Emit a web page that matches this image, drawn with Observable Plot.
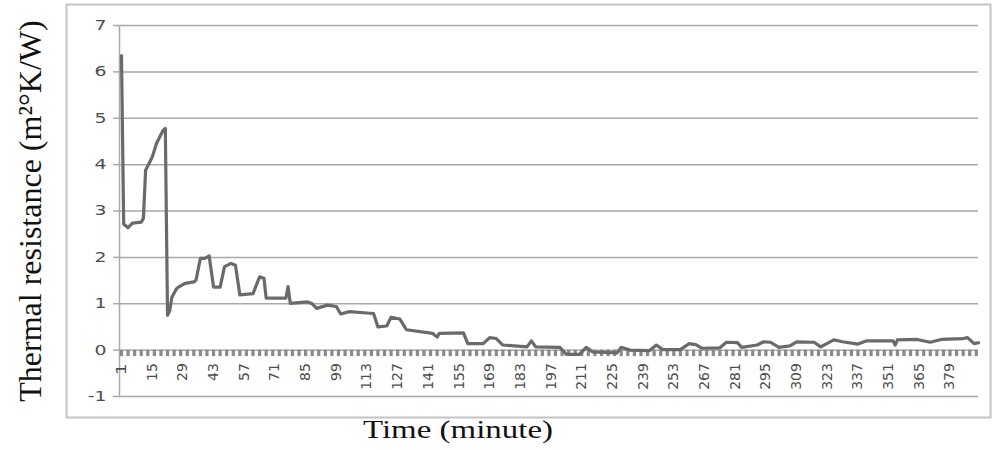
<!DOCTYPE html>
<html><head><meta charset="utf-8">
<script src="https://cdn.jsdelivr.net/npm/d3@7"></script>
<script src="https://cdn.jsdelivr.net/npm/@observablehq/plot@0.6"></script>
<style>
html,body{margin:0;padding:0;background:#fff;}
#chart{width:998px;height:450px;}
</style></head><body><div id="chart"></div>
<script>
// Key points (minute, thermal resistance)
const minutes = [1,2,4,6,10,11,12,15,17,20,21,22,23,24,26,27,30,34,35,37,39,41,43,46,48,51,53,55,61,64,66,67,76,77,78,86,88,90,95,99,101,105,113,116,118,122,124,128,131,143,145,146,157,159,166,169,172,175,186,188,190,201,204,210,213,216,227,229,233,242,245,248,256,260,263,266,274,277,282,284,291,294,297,301,306,309,317,320,326,330,337,341,353,354,355,364,370,375,385,387,390,392];
const resistance = [6.35,2.72,2.64,2.74,2.76,2.84,3.88,4.16,4.46,4.74,4.78,0.75,0.85,1.14,1.32,1.36,1.44,1.47,1.51,1.98,1.98,2.03,1.36,1.36,1.80,1.87,1.83,1.19,1.22,1.58,1.55,1.12,1.12,1.37,1.01,1.04,1.00,0.90,0.97,0.94,0.78,0.83,0.80,0.79,0.50,0.52,0.71,0.67,0.44,0.36,0.28,0.36,0.37,0.14,0.14,0.27,0.25,0.11,0.07,0.20,0.07,0.06,-0.09,-0.09,0.06,-0.04,-0.06,0.06,0.00,-0.01,0.11,0.01,0.01,0.14,0.12,0.04,0.05,0.17,0.16,0.06,0.11,0.18,0.17,0.06,0.09,0.18,0.17,0.07,0.22,0.18,0.13,0.20,0.20,0.11,0.22,0.23,0.17,0.23,0.25,0.27,0.14,0.16];
const xTickLabels = [1,15,29,43,57,71,85,99,113,127,141,155,169,183,197,211,225,239,253,267,281,295,309,323,337,351,365,379];
const yTicks = [-1,0,1,2,3,4,5,6,7];
const yTitle = "Thermal resistance (m²°K/W)";
const xTitle = "Time (minute)";

const data = minutes.map((m, i) => ({minute: m, value: resistance[i]}));
const xDomain = [0.09, 392];
const minorTicks = d3.range(1, 393, 3);

const gridColor = "#a9a9a9";
const labelColor = "#4d4d4d";

const plot = Plot.plot({
  width: 998, height: 450,
  marginLeft: 119, marginRight: 20, marginTop: 25, marginBottom: 54,
  x: {domain: xDomain, axis: null},
  y: {domain: [-1, 7], axis: null},
  style: {background: "#fff"},
  marks: [
    Plot.frame({stroke: "#c4c4c4", strokeWidth: 2, insetLeft: -53, insetTop: -21, insetRight: -12, insetBottom: -21}),
    Plot.ruleY(yTicks, {stroke: gridColor, strokeWidth: 1.5}),
    Plot.axisY(yTicks, {tickSize: 6, tickPadding: 7, tickFormat: d => String(d), stroke: gridColor, strokeWidth: 1.5, fill: labelColor, fontSize: 14, fontFamily: "DejaVu Sans", label: null}),
    Plot.ruleX([xDomain[0]], {y1: -1, y2: 7, stroke: gridColor, strokeWidth: 1.5}),
    Plot.ruleX(minorTicks, {y1: 0, y2: -0.14, stroke: "#8a8a8a", strokeWidth: 3.2}),
    Plot.line(data, {x: "minute", y: "value", stroke: "#6a6a6a", strokeWidth: 3.2, strokeLinejoin: "round"}),
    Plot.text(xTickLabels, {x: d => d, y: 0, dy: 13, rotate: -90, textAnchor: "end", text: d => String(d), fontSize: 14, fontFamily: "DejaVu Sans", fill: labelColor}),
    Plot.text([yTitle], {frameAnchor: "left", textAnchor: "middle", dx: -89, rotate: -90, fontSize: 32, fontFamily: "Liberation Serif", fill: "#111"}),
    Plot.text([xTitle], {frameAnchor: "bottom", textAnchor: "middle", dx: -91, dy: 41, fontSize: 26, fontFamily: "Liberation Serif", fill: "#111"})
  ]
});
document.getElementById("chart").appendChild(plot);

// horizontal stretch of texts to mimic the reference proportions
d3.select(plot).selectAll("text").each(function() {
  const t = this.textContent;
  if (t === xTitle) {
    this.setAttribute("textLength", 190);
    this.setAttribute("lengthAdjust", "spacingAndGlyphs");
  } else if (yTicks.map(String).includes(t)) {
    const L = this.getComputedTextLength();
    this.setAttribute("textLength", L * 1.35);
    this.setAttribute("lengthAdjust", "spacingAndGlyphs");
  }
});
</script>
</body></html>
